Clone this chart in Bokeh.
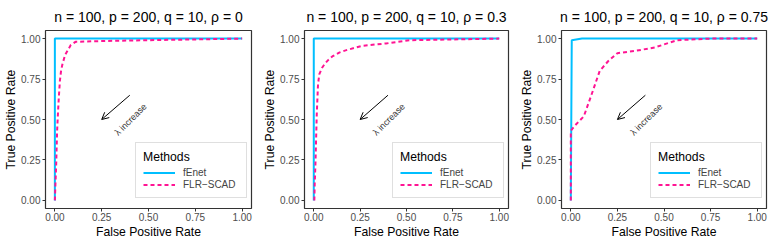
from bokeh.plotting import figure
from bokeh.layouts import row
from bokeh.models import (FixedTicker, NumeralTickFormatter, Arrow, OpenHead,
                          Legend, LegendItem, Range1d, Label)
from bokeh.embed import file_html
from bokeh.resources import INLINE

FONT = "Liberation Sans"

titles = ["n = 100, p = 200, q = 10, \u03c1 = 0",
          "n = 100, p = 200, q = 10, \u03c1 = 0.3",
          "n = 100, p = 200, q = 10, \u03c1 = 0.75"]
methods = ["fEnet", "FLR\u2212SCAD"]
x_ticks = [0, 0.25, 0.5, 0.75, 1.0]
y_ticks = [0, 0.25, 0.5, 0.75, 1.0]

# panel 1 (rho = 0)
fenet1_x = [0, 0, 1]
fenet1_y = [0, 1, 1]
scad1_x = [0, 0.003, 0.007, 0.012, 0.017, 0.021, 0.027, 0.033, 0.04, 0.055,
           0.07, 0.085, 0.11, 0.25, 0.5, 0.75, 1.0]
scad1_y = [0, 0.1, 0.22, 0.43, 0.55, 0.635, 0.74, 0.8, 0.84, 0.9,
           0.93, 0.96, 0.98, 0.985, 0.99, 0.995, 1.0]

# panel 2 (rho = 0.3)
fenet2_x = [0, 0, 1]
fenet2_y = [0, 1, 1]
scad2_x = [0.003, 0.005, 0.009, 0.016, 0.023, 0.03, 0.045, 0.06, 0.08, 0.1,
           0.14, 0.18, 0.26, 0.39, 0.52, 0.75, 1.0]
scad2_y = [0, 0.1, 0.225, 0.53, 0.72, 0.78, 0.82, 0.845, 0.87, 0.89,
           0.915, 0.93, 0.955, 0.97, 0.99, 0.995, 1.0]

# panel 3 (rho = 0.75)
fenet3_x = [0, 0.005, 0.06, 1]
fenet3_y = [0, 0.99, 1.0, 1.0]
scad3_x = [0, 0, 0.02, 0.07, 0.11, 0.155, 0.2, 0.25, 0.35, 0.45, 0.57, 0.75, 1.0]
scad3_y = [0, 0.43, 0.46, 0.52, 0.65, 0.8, 0.86, 0.91, 0.925, 0.945, 0.99, 1.0, 1.0]

# annotation
arrow_start = (0.40, 0.65)
arrow_end = (0.25, 0.50)
note_pos = (0.405, 0.50)
note_text = "\u03bb increase"

panels = [
    (fenet1_x, fenet1_y, scad1_x, scad1_y),
    (fenet2_x, fenet2_y, scad2_x, scad2_y),
    (fenet3_x, fenet3_y, scad3_x, scad3_y),
]

# width, min_border_left, min_border_right
geoms = [(257, 45, 6), (257, 47, 6), (258, 47, 6)]
HEIGHT = 244

CYAN = "#00BFFF"
PINK = "#FF1493"


def make(i):
    fx, fy, sx, sy = panels[i]
    w, bl, br = geoms[i]
    p = figure(width=w, height=HEIGHT, x_range=Range1d(-0.05, 1.05),
               y_range=Range1d(-0.05, 1.05), output_backend="svg",
               toolbar_location=None, min_border_left=bl, min_border_right=br,
               min_border_top=28, min_border_bottom=36)
    p.title.text = titles[i]
    p.title.align = "center"
    p.title.text_font = FONT
    p.title.text_font_size = "14px"
    p.title.text_font_style = "normal"
    p.title.text_color = "black"
    p.title.standoff = 12
    p.grid.visible = False
    p.outline_line_color = "#333333"
    p.outline_line_width = 1.2
    p.background_fill_color = "white"
    p.border_fill_color = "white"

    for ax, ticks in ((p.xaxis[0], x_ticks), (p.yaxis[0], y_ticks)):
        ax.ticker = FixedTicker(ticks=ticks)
        ax.formatter = NumeralTickFormatter(format="0.00")
        ax.axis_line_color = None
        ax.major_tick_line_color = "#333333"
        ax.major_tick_in = 0
        ax.major_tick_out = 3
        ax.minor_tick_line_color = None
        ax.major_label_text_font = FONT
        ax.major_label_text_font_size = "10px"
        ax.major_label_text_color = "#4D4D4D"
        ax.axis_label_text_font = FONT
        ax.axis_label_text_font_size = "12.2px"
        ax.axis_label_text_font_style = "normal"
        ax.axis_label_text_color = "black"
    p.xaxis.axis_label = "False Positive Rate"
    p.yaxis.axis_label = "True Positive Rate"
    p.xaxis.major_label_standoff = 1
    p.xaxis.axis_label_standoff = 1
    p.yaxis.major_label_standoff = 2
    p.yaxis.axis_label_standoff = 0

    r1 = p.line(fx, fy, line_color=CYAN, line_width=2)
    r2 = p.line(sx, sy, line_color=PINK, line_width=2, line_dash="4 3")

    p.add_layout(Arrow(end=OpenHead(size=7, line_width=1, line_color="black"),
                       x_start=arrow_start[0], y_start=arrow_start[1],
                       x_end=arrow_end[0], y_end=arrow_end[1],
                       line_width=1, line_color="black"))
    p.add_layout(Label(x=note_pos[0], y=note_pos[1], text=note_text,
                       angle=45, angle_units="deg", text_align="center",
                       text_baseline="middle", text_font=FONT,
                       text_font_size="9px", text_color="#333333"))

    fw = w - bl - br
    leg = Legend(items=[LegendItem(label=methods[0], renderers=[r1]),
                        LegendItem(label=methods[1], renderers=[r2])],
                 location=(fw - 110 - 6, 10), title="Methods")
    leg.title_text_font = FONT
    leg.title_text_font_size = "12.2px"
    leg.title_text_font_style = "normal"
    leg.title_text_color = "black"
    leg.title_standoff = 3
    leg.label_text_font = FONT
    leg.label_text_font_size = "10px"
    leg.label_height = 11
    leg.glyph_height = 11
    leg.glyph_width = 32
    leg.label_standoff = 8
    leg.label_width = 56
    leg.padding = 7
    leg.spacing = 1
    leg.margin = 0
    leg.border_line_color = "#C0C0C0"
    leg.border_line_width = 1
    leg.background_fill_color = "white"
    leg.background_fill_alpha = 1
    p.add_layout(leg)
    return p


figs = [make(i) for i in range(3)]
layout = row(*figs)
open("out.html", "w").write(file_html(layout, INLINE))
